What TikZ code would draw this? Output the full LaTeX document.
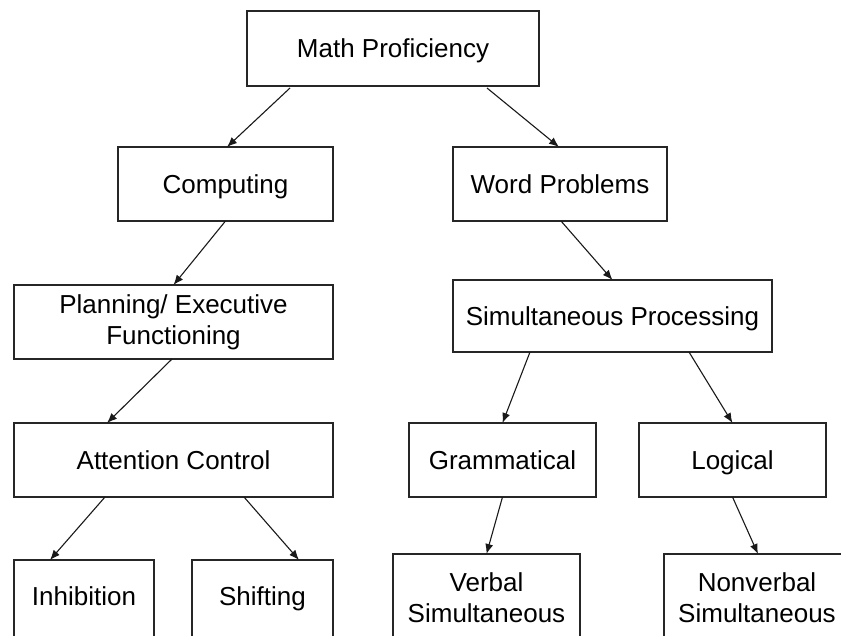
\documentclass[tikz,border=0pt]{standalone}
\usepackage{fontspec}
\setmainfont{Liberation Sans}
\usetikzlibrary{arrows.meta}
\begin{document}
\begin{tikzpicture}[x=1pt,y=-1pt,
  box/.style={draw=black!85, line width=1.3pt, inner sep=0pt, outer sep=0pt,
    align=center, font=\fontsize{26}{31}\selectfont, text=black},
  one/.style={text height=18.6pt, text depth=0pt},
  arr/.style={draw=black!90, line width=1.1pt, -{Latex[length=10pt,width=8pt]}}]
\useasboundingbox (0,0) rectangle (841,635);
\fill[white] (0,0) rectangle (841,635);
\clip (0,0) rectangle (841,635);

\node[box, one, minimum width=292pt, minimum height=75pt] (math) at (393,48.5) {Math Proficiency};
\node[box, one, minimum width=215pt, minimum height=74pt] (comp) at (225.5,184) {Computing};
\node[box, one, minimum width=214pt, minimum height=74pt] (word) at (560,184) {Word Problems};
\node[box, minimum width=319pt, minimum height=74pt] (plan) at (173.5,322) {Planning/ Executive\\Functioning};
\node[box, one, minimum width=319pt, minimum height=72pt] (sim) at (612.5,316) {Simultaneous Processing};
\node[box, one, minimum width=319pt, minimum height=74pt] (att) at (173.5,460) {Attention Control};
\node[box, one, minimum width=187pt, minimum height=74pt] (gram) at (502.5,460) {Grammatical};
\node[box, one, minimum width=187pt, minimum height=74pt] (log) at (732.5,460) {Logical};
\node[box, minimum width=140pt, minimum height=80pt, text height=18.6pt, text depth=8pt] (inh) at (84,600) {Inhibition};
\node[box, minimum width=141pt, minimum height=80pt, text height=18.6pt, text depth=8pt] (shift) at (262.5,600) {Shifting};
\node[box, minimum width=187pt, minimum height=88pt] (verb) at (486.5,598) {Verbal\\Simultaneous};
\node[box, minimum width=186pt, minimum height=88pt] (nonv) at (757,598) {Nonverbal\\Simultaneous};

\draw[arr] ([xshift=-103pt,yshift=-2pt]math.south) -- ([xshift=1.5pt]comp.north);
\draw[arr] ([xshift=94pt,yshift=-2pt]math.south) -- ([xshift=-1pt]word.north);
\draw[arr] (comp.south) -- (plan.north);
\draw[arr] ([xshift=1pt]word.south) -- (sim.north);
\draw[arr] ([xshift=-1.5pt]plan.south) -- ([xshift=-66.5pt]att.north);
\draw[arr] ([xshift=-82.5pt]sim.south) -- (gram.north);
\draw[arr] ([xshift=76.5pt]sim.south) -- (log.north);
\draw[arr] ([xshift=-68.5pt]att.south) -- ([xshift=-34pt]inh.north);
\draw[arr] ([xshift=70.5pt]att.south) -- ([xshift=36.5pt]shift.north);
\draw[arr] (gram.south) -- (verb.north);
\draw[arr] (log.south) -- ([xshift=1pt]nonv.north);
\end{tikzpicture}
\end{document}
